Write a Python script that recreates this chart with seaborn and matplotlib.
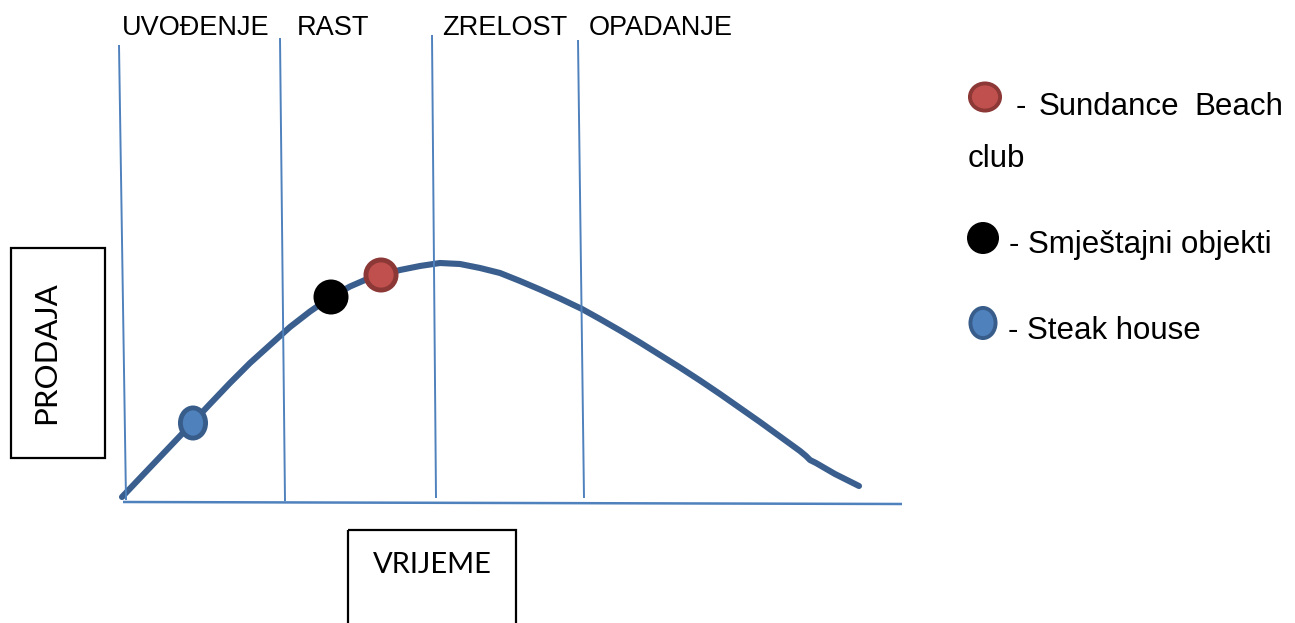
import seaborn as sns
import pandas as pd
import matplotlib.pyplot as plt
from matplotlib.patches import Ellipse, Rectangle

# podaci (pikselne koordinate slike)
curve_x = [122, 140, 160, 180, 193, 210, 230, 250, 270, 290, 310, 331, 350, 365, 381, 400,
           420, 440, 460, 480, 500, 520, 540, 560, 582, 600, 620, 640, 660, 680, 700, 720,
           740, 760, 780, 800, 806, 810, 816, 835, 859]
curve_y = [497, 478, 457, 436, 422, 404, 383, 363, 345, 327, 311.5, 297, 286.5, 280, 275, 270,
           266, 263, 264, 268, 273, 281, 289.5, 298.5, 309, 319, 330.5, 342.5, 355, 367.5, 380.5, 394,
           408, 422, 436.5, 451, 456, 460, 463, 474, 486]

phases = ['UVOĐENJE', 'RAST', 'ZRELOST', 'OPADANJE']
phase_label_x = [122, 297, 442, 589]
phase_top_x = [119, 280, 432, 578]
phase_top_y = [45, 38, 35, 40]
phase_bot_x = [126, 285, 436, 584]
phase_bot_y = [500, 501, 498, 498]

axis_x = [123, 902]
axis_y = [502, 504]

# tocke na krivulji
products = ['Steak house', 'Smještajni objekti', 'Sundance Beach club']
product_x = [193, 331, 381]
product_y = [423, 297, 275]

sns.set_style('white')
plt.rcParams['font.family'] = ['Liberation Sans', 'DejaVu Sans']
plt.rcParams['text.color'] = 'black'

fig = plt.figure(figsize=(12.95, 6.23), dpi=100)
ax = fig.add_axes([0, 0, 1, 1])

line_blue = '#4F81BD'
curve_col = '#3A5E8D'

# krivulja
df = pd.DataFrame({'x': curve_x, 'y': curve_y})
sns.lineplot(data=df, x='x', y='y', sort=False, estimator=None, color=curve_col,
             lw=4.4, ax=ax, solid_capstyle='round', solid_joinstyle='round')
ax.set_xlim(0, 1295)
ax.set_ylim(623, 0)
ax.axis('off')

# faze
for i in range(len(phases)):
    ax.plot([phase_top_x[i], phase_bot_x[i]], [phase_top_y[i], phase_bot_y[i]],
            color=line_blue, lw=1.4, solid_capstyle='butt')
    ax.text(phase_label_x[i], 35, phases[i], fontsize=19.5, ha='left', va='baseline')

ax.plot(axis_x, axis_y, color=line_blue, lw=1.8, solid_capstyle='butt')

styles = {
    'Steak house': dict(fc='#4F81BD', ec='#385D8A', w=30, h=35, lw=3.5),
    'Smještajni objekti': dict(fc='black', ec='black', w=35, h=35, lw=0),
    'Sundance Beach club': dict(fc='#C0504D', ec='#8C3836', w=35, h=35, lw=3.5),
}

for name, x, y in zip(products, product_x, product_y):
    s = styles[name]
    e = Ellipse((x, y), s['w'] - s['lw'] / 0.72, s['h'] - s['lw'] / 0.72, fc=s['fc'], ec=s['ec'],
                lw=s['lw'], zorder=5)
    ax.add_patch(e)

# legenda
leg = [('Sundance Beach club', 985, 97, 35, 32), ('Smještajni objekti', 983, 238, 32, 32),
       ('Steak house', 983, 323, 30, 35)]
for name, x, y, w, h in leg:
    s = styles[name]
    ax.add_patch(Ellipse((x, y), w - s['lw'] / 0.72, h - s['lw'] / 0.72, fc=s['fc'], ec=s['ec'],
                         lw=s['lw'] * 0.8, zorder=5))

fs = 22.5
ax.text(1016, 115, '-', fontsize=fs, va='baseline')
ax.text(1039, 115, 'Sundance', fontsize=fs, va='baseline')
ax.text(1194, 115, 'Beach', fontsize=fs, va='baseline')
ax.text(968, 167, 'club', fontsize=fs, va='baseline')
ax.text(1009, 253, '- Smještajni objekti', fontsize=fs, va='baseline')
ax.text(1008, 339, '- Steak house', fontsize=fs, va='baseline')

# okviri za osi
ax.add_patch(Rectangle((11, 248), 94, 210, fill=False, ec='black', lw=1.6))
ax.text(46, 353, 'PRODAJA', rotation=90, fontsize=22.5, family='Lato', ha='center', va='center')
ax.add_patch(Rectangle((348, 530), 168, 110, fill=False, ec='black', lw=1.6, clip_on=True))
ax.text(432, 573, 'VRIJEME', fontsize=21, family='Lato', ha='center', va='baseline')

plt.savefig('out.png', dpi=100)
